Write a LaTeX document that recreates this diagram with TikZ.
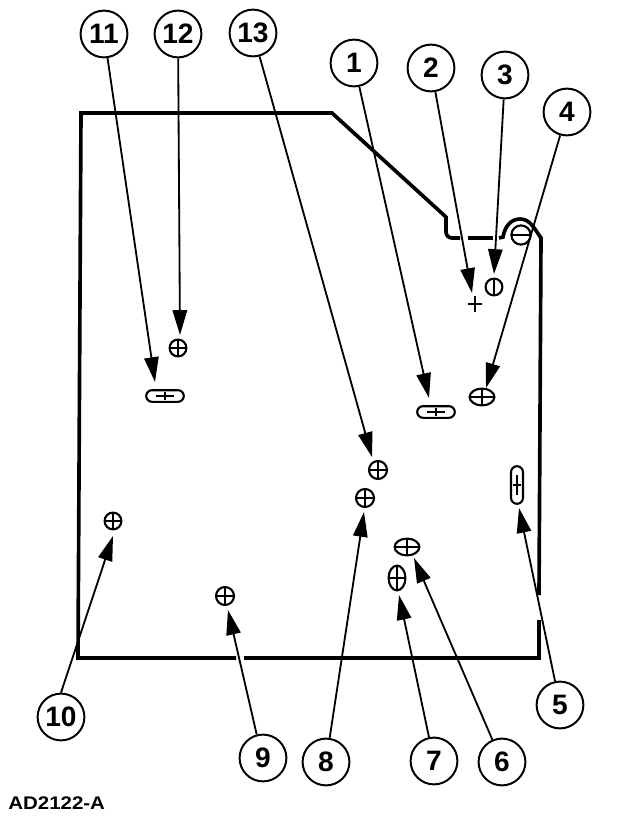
\documentclass[tikz,border=0pt]{standalone}
\usepackage{fontspec}
\setmainfont{Liberation Sans}
\usetikzlibrary{arrows.meta,shapes.geometric,shapes.misc}

\begin{document}
\begin{tikzpicture}[
            x = .25mm, y = -.25mm,
            line/.style={line width = 2.6pt},
            pointer/.style={line width = 1.3pt, -{Triangle[length=6.2mm,width=3.6mm]}},
            callout/.style={circle, draw, line width = 1.4pt, minimum size = 11.7mm, inner sep = 0pt, font=\fontsize{20}{20}\selectfont\bfseries},
            hairs/.style 2 args={path picture={
                \draw[line width = 1.1pt] (path picture bounding box.center) ++(-#1,0) -- ++({2*#1},0);
                \draw[line width = 1.1pt] (path picture bounding box.center) ++(0,-#2) -- ++(0,{2*#2});}},
            hole/.style={circle, draw, line width = 1.5pt, minimum size = 4.2mm, inner sep = 0pt, hairs={10}{10}},
            oval/.style={ellipse, draw, line width = 1.5pt, inner sep = 0pt, hairs={14}{14}},
            slot/.style={rounded rectangle, draw, line width = 1.5pt, inner sep = 0pt},
            ]

        \useasboundingbox (0,0) rectangle (640,834);

        % outline of the panel
        \draw[line, rounded corners=1.5mm] (460,238) -- (446,238) -- (446,216);
        \draw[line] (446,217) -- (332,113) -- (81,113) -- (78,658) -- (236,658);
        \draw[line] (244,658) -- (539,658) -- (539,620);
        \draw[line] (468,238) -- (493,238);
        \draw[line] (499,238) -- (503,237) .. controls (505,225) and (512,219) .. (520,219) .. controls (530,219) and (534,228) .. (541,238) -- (539,595);

        % holes
        \node[hole] (hole12) at (178,348) {};
        \node[hole, minimum size = 4.5mm] (hole13) at (378,470) {};
        \node[hole, minimum size = 4.5mm] (hole8) at (365,498) {};
        \node[hole] (hole10) at (113,521) {};
        \node[hole, minimum size = 4.5mm] (hole9) at (225,596) {};
        \node[circle, minimum size = 4mm, inner sep = 0pt, hairs={7}{8}] (hole2) at (475,304) {};
        \node[hole, hairs={0}{10}] (hole3) at (494,287) {};
        \node[hole, minimum size = 4.8mm, hairs={10}{0}] (hole0) at (521,235) {};
        \node[oval, minimum width = 6.2mm, minimum height = 4.2mm] (hole4) at (482,397) {};
        \node[oval, minimum width = 6.2mm, minimum height = 4.2mm] (hole6) at (407,547) {};
        \node[oval, minimum width = 4.2mm, minimum height = 6.2mm] (hole7) at (397,578) {};
        \node[slot, minimum width = 9.4mm, minimum height = 2.9mm, hairs={9}{4}] (hole1) at (436,412) {};
        \node[slot, minimum width = 9.4mm, minimum height = 2.9mm, hairs={9}{4}] (hole11) at (165,396) {};
        \node[slot, minimum width = 9.4mm, minimum height = 3mm, rotate=90, hairs={10}{4}] (hole5) at (517,485) {};

        % callouts and their arrows
        \foreach \num/\x/\y/\tipx/\tipy in {1/354/63/429/398, 2/431/68/472/293, 3/505/75/494/274, 4/567/112/486/388, 5/560/705/519/508, 6/502/762/414/558, 7/434/761/399/595, 8/326/762/364/512, 11/104/34/155/382, 12/178/34/180/335, 13/253/33/372/457} {
            \node[callout] (call\num) at (\x,\y) {\num};
            \coordinate (tip\num) at (\tipx,\tipy);
            \draw[pointer] (call\num) -- (tip\num);
        }
        \node[callout] (call9) at (263,758) {9};
        \node[callout] (call10) at (61,717) {10};
        \coordinate (tip9) at (228,610);
        \coordinate (tip10) at (113,536);
        \draw[pointer] (call9.105) -- (tip9);
        \draw[pointer] (call10.north) -- (tip10);

        \node[anchor=west, inner sep=0pt, xscale=1.12, font=\fontsize{13}{13}\selectfont\bfseries] (code) at (8,803) {AD2122-A};

    \end{tikzpicture}
\end{document}
